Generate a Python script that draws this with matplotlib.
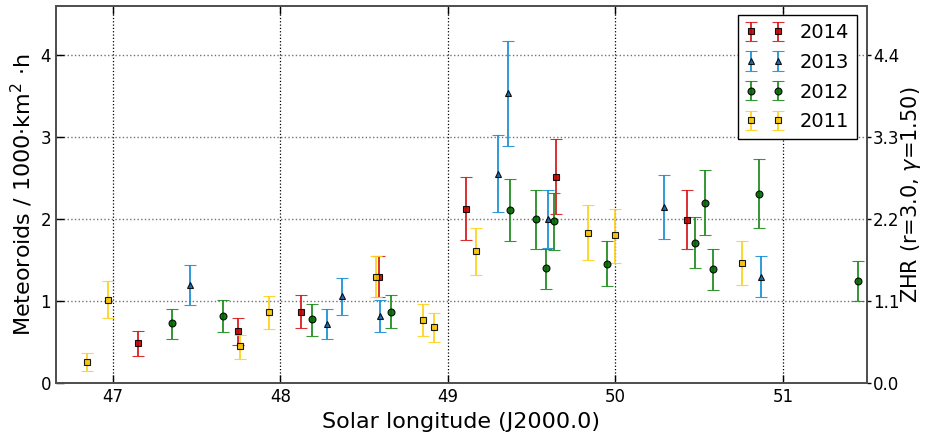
import numpy as np
import matplotlib
matplotlib.use('Agg')
import matplotlib.pyplot as plt

# solar longitude, rate, upper and lower error bound for each year
x2014 = [47.147, 47.744, 48.122, 48.59, 49.107, 49.645, 50.429]
y2014 = [0.49, 0.634, 0.87, 1.30, 2.12, 2.51, 1.99]
hi2014 = [0.64, 0.80, 1.08, 1.55, 2.51, 2.97, 2.35]
lo2014 = [0.33, 0.46, 0.67, 1.05, 1.74, 2.06, 1.63]

x2013 = [47.46, 48.276, 48.365, 48.594, 49.297, 49.358, 49.595, 50.29, 50.869]
y2013 = [1.195, 0.72, 1.06, 0.82, 2.55, 3.54, 2.0, 2.15, 1.29]
hi2013 = [1.44, 0.91, 1.28, 1.02, 3.02, 4.17, 2.36, 2.54, 1.55]
lo2013 = [0.95, 0.54, 0.83, 0.63, 2.09, 2.89, 1.65, 1.76, 1.05]

x2012 = [47.35, 47.66, 48.186, 48.66, 49.37, 49.525, 49.585, 49.635, 49.95,
         50.475, 50.534, 50.582, 50.857, 51.446]
y2012 = [0.73, 0.825, 0.777, 0.874, 2.11, 2.0, 1.40, 1.975, 1.455,
         1.71, 2.20, 1.39, 2.31, 1.24]
hi2012 = [0.91, 1.02, 0.97, 1.08, 2.49, 2.36, 1.64, 2.32, 1.73,
          2.02, 2.60, 1.64, 2.73, 1.49]
lo2012 = [0.54, 0.63, 0.58, 0.67, 1.73, 1.64, 1.15, 1.62, 1.19,
          1.40, 1.80, 1.13, 1.89, 1.00]

x2011 = [46.847, 46.968, 47.76, 47.93, 48.57, 48.85, 48.915, 49.166, 49.836, 50.0, 50.757]
y2011 = [0.26, 1.016, 0.45, 0.866, 1.30, 0.77, 0.68, 1.61, 1.83, 1.80, 1.46]
hi2011 = [0.37, 1.24, 0.585, 1.06, 1.55, 0.97, 0.86, 1.89, 2.17, 2.12, 1.73]
lo2011 = [0.15, 0.80, 0.29, 0.66, 1.05, 0.58, 0.50, 1.32, 1.50, 1.47, 1.20]

years = ['2014', '2013', '2012', '2011']
xs = [x2014, x2013, x2012, x2011]
ys = [y2014, y2013, y2012, y2011]
his = [hi2014, hi2013, hi2012, hi2011]
los = [lo2014, lo2013, lo2012, lo2011]
markers = ['s', '^', 'o', 's']
ecolors = ['#d7191c', '#1a8fd6', '#1e8c1e', '#ffd21a']
fcolors = ['#c00000', '#1565a8', '#006400', '#f5c400']

zhr_factor = 1.1
zhr_ticks = [0.0, 1.1, 2.2, 3.3, 4.4]

fig = plt.figure(figsize=(9.25, 4.36), dpi=100)
ax = fig.add_axes([0.0605, 0.121, 0.8765, 0.866])

for lab, x, y, hi, lo, m, ec, fc in zip(years, xs, ys, his, los, markers, ecolors, fcolors):
    y = np.array(y)
    yerr = [y - np.array(lo), np.array(hi) - y]
    ax.errorbar(x, y, yerr=yerr, fmt=m, color=ec, ecolor=ec, mfc=fc, mec='k',
                mew=0.8, ms=5, elinewidth=1.4, capsize=4, capthick=1.4,
                alpha=0.9, label=lab)

ax.set_xlim(46.66, 51.5)
ax.set_ylim(0, 4.6)
ax.set_xticks([47, 48, 49, 50, 51])
ax.set_yticks([0, 1, 2, 3, 4])
ax.tick_params(direction='in', top=True, right=True, labelsize=12, length=6, width=1)
ax.xaxis.grid(True, color='k', linestyle=':', linewidth=0.9)
ax.yaxis.grid(True, color='0.45', linestyle=':', linewidth=1.0)
ax.set_xlabel('Solar longitude (J2000.0)', fontsize=16)
ax.set_ylabel('Meteoroids / 1000·km$^2$ ·h', fontsize=16)
for s in ax.spines.values():
    s.set_color('0.3')
    s.set_linewidth(1.2)

leg = ax.legend(loc='upper right', numpoints=2, fontsize=14, fancybox=False,
                borderaxespad=0.5, handlelength=2.0, labelspacing=0.55)
leg.get_frame().set_edgecolor('k')
leg.get_frame().set_linewidth(1.0)
leg.get_frame().set_alpha(1)

ax2 = ax.twinx()
ax2.set_ylim(0, 4.6 * zhr_factor)
ax2.set_yticks(zhr_ticks)
ax2.set_yticklabels(['%.1f' % v for v in zhr_ticks])
ax2.tick_params(direction='out', labelsize=12, length=3, width=1, pad=1.5)
ax2.set_ylabel(r'ZHR (r=3.0, $\gamma$=1.50)', fontsize=15, labelpad=0)
for s in ax2.spines.values():
    s.set_color('0.3')
    s.set_linewidth(1.2)

fig.savefig('out.png', dpi=100)
